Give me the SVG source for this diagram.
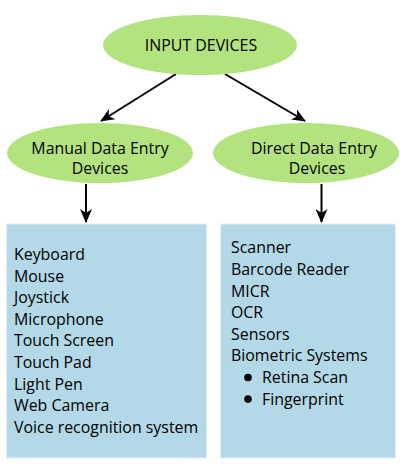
<svg xmlns="http://www.w3.org/2000/svg" width="400" height="474" viewBox="0 0 400 474">
<style>
.ell{fill:#b3e37f;}
.box{fill:#b3d8e7;stroke:#e4f1f6;stroke-width:1;}
.t{font-family:"Open Sans","Liberation Sans",sans-serif;font-size:15.9px;fill:#000;}
.c{text-anchor:middle;}
.con{stroke:#000;stroke-width:2;fill:none;}
</style>
<defs>
<marker id="ah" viewBox="0 0 14 12" refX="13" refY="6" markerWidth="14" markerHeight="12" markerUnits="userSpaceOnUse" orient="auto">
<path d="M0,0 L14,6 L0,12 L4,6 Z" fill="#000"/>
</marker>
</defs>
<rect width="400" height="474" fill="#fff"/>
<g id="connectors">
<line class="con" x1="176" y1="74" x2="101" y2="121" marker-end="url(#ah)"/>
<line class="con" x1="225" y1="74" x2="305" y2="121" marker-end="url(#ah)"/>
<line class="con" x1="86" y1="184" x2="86" y2="222" marker-end="url(#ah)"/>
<line class="con" x1="321.5" y1="184" x2="321.5" y2="222" marker-end="url(#ah)"/>
</g>
<g id="input-devices">
<ellipse class="ell" cx="200" cy="45" rx="97" ry="30"/>
<text class="t c" x="201" y="51">INPUT DEVICES</text>
</g>
<g id="manual">
<ellipse class="ell" cx="100" cy="153" rx="93" ry="30"/>
<text class="t c" x="100" y="154">Manual Data Entry</text>
<text class="t c" x="100" y="174">Devices</text>
</g>
<g id="direct">
<ellipse class="ell" cx="306" cy="153" rx="93" ry="30"/>
<text class="t c" x="314" y="154">Direct Data Entry</text>
<text class="t c" x="317" y="174">Devices</text>
</g>
<g id="manual-list">
<rect class="box" x="6.5" y="224" width="200" height="234"/>
<text class="t" x="14" y="260">Keyboard</text>
<text class="t" x="14" y="281.6">Mouse</text>
<text class="t" x="14" y="303.2">Joystick</text>
<text class="t" x="14" y="324.8">Microphone</text>
<text class="t" x="14" y="346.4">Touch Screen</text>
<text class="t" x="14" y="368">Touch Pad</text>
<text class="t" x="14" y="389.6">Light Pen</text>
<text class="t" x="14" y="411.2">Web Camera</text>
<text class="t" x="14" y="432.8">Voice recognition system</text>
</g>
<g id="direct-list">
<rect class="box" x="220.5" y="224" width="175" height="234"/>
<text class="t" x="231" y="253.3">Scanner</text>
<text class="t" x="231" y="274.9">Barcode Reader</text>
<text class="t" x="231" y="296.5">MICR</text>
<text class="t" x="231" y="318.1">OCR</text>
<text class="t" x="231" y="339.7">Sensors</text>
<text class="t" x="231" y="361.3">Biometric Systems</text>
<circle cx="248" cy="377.5" r="3.8" fill="#000"/>
<text class="t" x="262" y="382.9">Retina Scan</text>
<circle cx="248" cy="399.1" r="3.8" fill="#000"/>
<text class="t" x="262" y="404.5">Fingerprint</text>
</g>
</svg>
